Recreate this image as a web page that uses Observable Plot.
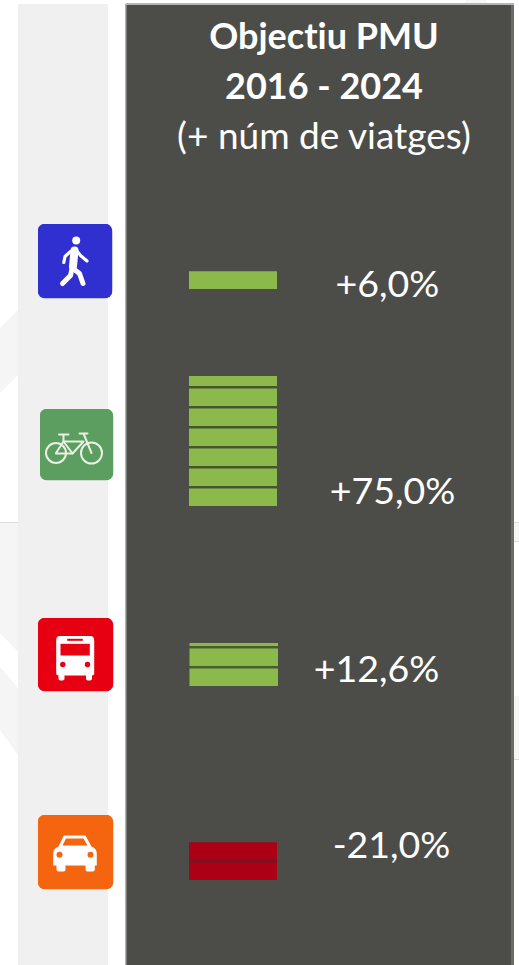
<!DOCTYPE html>
<html lang="ca">
<head>
<meta charset="utf-8">
<script src="https://cdn.jsdelivr.net/npm/d3@7"></script>
<script src="https://cdn.jsdelivr.net/npm/@observablehq/plot@0.6"></script>
<style>
  html, body { margin: 0; padding: 0; background: #fff; }
  svg { display: block; }
  svg text { font-variant-ligatures: none; font-feature-settings: "liga" 0, "clig" 0; }
</style>
</head>
<body>
<div id="chart"></div>
<script>
// ---- data ----
const modes = ["A peu", "Bicicleta", "Bus", "Cotxe"];
const changes = ["+6,0%", "+75,0%", "+12,6%", "-21,0%"];
const fullSegments = [1, 6, 2, 2];
const partialSegment = [0, 0.5, 0.15, 0];
const titleBold = ["Objectiu PMU", "2016 - 2024"];
const titleNote = ["(+ núm de viatges)"];

// ---- layout and style ----
const W = 519, H = 965;
const barX = [[189, 277], [189, 277], [189.5, 278], [189, 277]];
const rowBase = [289, 506, 686, 880];
const unit = 20, segH = 17.5;
const barColor = ["#8cb94c", "#8cb94c", "#8cb94c", "#ab0015"];
const gapColor = ["#8cb94c", "#465430", "#4a5c32", "#7a1420"];
const labelPos = [[387, 296], [392, 503], [376, 681], [391, 857]];
const iconBox = [
  {x: 37, y: 223, w: 75, h: 75, fill: "#3030d0"},
  {x: 39, y: 408, w: 74, h: 72, fill: "#5b9e60"},
  {x: 37, y: 617, w: 76, h: 74, fill: "#e60012"},
  {x: 37, y: 814, w: 76, h: 75, fill: "#f5640f"}
];
const glyphs = [
  // walker
  `<circle cx="38.7" cy="17" r="4" fill="#fff"/>
   <g fill="none" stroke="#fff" stroke-linecap="round" stroke-linejoin="round">
     <path d="M37 27 L35.5 43" stroke-width="8"/>
     <path d="M33 28 L27.5 33 L26.3 39" stroke-width="3.2"/>
     <path d="M39 27 L43 32 L49.5 37.5" stroke-width="3.2"/>
     <path d="M34.5 45 L33 52 L25 60" stroke-width="5"/>
     <path d="M35.5 45 L42 50 L45.5 60" stroke-width="5"/>
   </g>`,
  // bicycle
  `<g fill="none" stroke="#e9f1e4" stroke-width="2" stroke-linecap="round" stroke-linejoin="round">
     <circle cx="16.5" cy="44.5" r="10"/>
     <circle cx="52" cy="44.5" r="10.5"/>
     <path d="M16.5 44.5 L24 33 L44 33 L33 45 L16.5 45 Z"/>
     <path d="M24 33 L33 45 M24 33 L24 26 M19.5 26 L29 26"/>
     <path d="M52 44.5 L44 25 L40 25 M44 25 L48 25"/>
   </g>`,
  // bus
  `<path d="M22 18.5 H53 Q56.7 18.5 56.7 23 V56 Q56.7 58 54.5 58 V61 Q54.5 63 51.5 63 Q48.5 63 48.5 61 V58 H27 V61 Q27 63 24 63 Q21 63 21 61 V58 Q18.7 58 18.7 56 V23 Q18.7 18.5 22 18.5 Z" fill="#fff"/>
   <rect x="23" y="26.3" width="29.3" height="11.7" fill="#e60012"/>
   <rect x="29.7" y="21.3" width="15.6" height="2" fill="#e60012"/>
   <circle cx="25.3" cy="47" r="2.7" fill="#e60012"/>
   <circle cx="50" cy="47" r="2.7" fill="#e60012"/>`,
  // car
  `<path d="M26.3 21 H48 L54 32 Q59.3 34 59.3 39 V51 H57.3 V55 Q57.3 57 55 57 H50 Q48 57 48 55 V51 H28 V55 Q28 57 26 57 H21 Q19 57 19 55 V51 H15.7 V39 Q15.7 34 21 32 Z" fill="#fff"/>
   <path d="M28.5 24 H46 L50 31 H25 Z" fill="#f5640f"/>
   <circle cx="22" cy="40.3" r="3" fill="#f5640f"/>
   <circle cx="53" cy="40.3" r="3" fill="#f5640f"/>`
];

const iconSrc = i => {
  const b = iconBox[i];
  const svg = `<svg xmlns="http://www.w3.org/2000/svg" width="${b.w}" height="${b.h}" viewBox="0 0 ${b.w} ${b.h}">
    <rect width="${b.w}" height="${b.h}" rx="8" fill="${b.fill}"/>${glyphs[i]}</svg>`;
  return "data:image/svg+xml," + encodeURIComponent(svg);
};

// ---- tables built from the arrays ----
const segments = modes.flatMap((mode, m) => {
  const out = d3.range(fullSegments[m]).map(k => ({
    m, y2: rowBase[m] - k * unit, y1: rowBase[m] - k * unit - segH
  }));
  if (partialSegment[m] > 0) {
    const bottom = rowBase[m] - fullSegments[m] * unit;
    out.push({m, y2: bottom, y1: bottom - partialSegment[m] * unit});
  }
  return out;
});
const stacks = modes.map((mode, m) => ({
  m,
  y2: rowBase[m],
  y1: d3.min(segments.filter(s => s.m === m), s => s.y1)
}));

// faint remains of the slide behind the panel
const ghostRects = [
  {x1: 18, x2: 108, y1: 4, y2: 965, fill: "#f0f0f0"},
  {x1: 514, x2: 519, y1: 522, y2: 542, fill: "#f6f6f6"},
  {x1: 514, x2: 519, y1: 696, y2: 759, fill: "#f6f6f6"},
  {x1: 514, x2: 519, y1: 522, y2: 523, fill: "#dcdcdc"},
  {x1: 514, x2: 519, y1: 541, y2: 542, fill: "#dcdcdc"},
  {x1: 514, x2: 519, y1: 759, y2: 760, fill: "#dcdcdc"},
  {x1: 0, x2: 18, y1: 522, y2: 523, fill: "#dcdcdc"},
  {x1: 466, x2: 486, y1: 0, y2: 4, fill: "#f6f6f6"}
];
const ghostBands = [
  {x: 0, top: 328, bottom: 393, k: 0}, {x: 18, top: 310, bottom: 375, k: 0},
  {x: 0, top: 523, bottom: 633, k: 1}, {x: 18, top: 523, bottom: 652, k: 1},
  {x: 0, top: 667, bottom: 730, k: 2}, {x: 18, top: 688, bottom: 755, k: 2}
];
const panel = [{x1: 126, x2: 512, y1: 4, y2: 965}];
const panelEdges = [
  {x1: 125, x2: 126.5, y1: 4, y2: 965, fill: "#b0b0ad"},
  {x1: 511, x2: 514, y1: 4, y2: 965, fill: "#6b6c66"},
  {x1: 126, x2: 514, y1: 3, y2: 5, fill: "#b5b5b2"}
];

const font = "Lato, Carlito, 'Open Sans', sans-serif";
const rectOf = d => Plot.rect(d, {x1: "x1", x2: "x2", y1: "y1", y2: "y2", fill: "fill"});

const chart = Plot.plot({
  width: W,
  height: H,
  margin: 0,
  x: {domain: [0, W], range: [0, W], axis: null},
  y: {domain: [0, H], range: [0, H], axis: null},
  style: {background: "#fff", fontFamily: font, overflow: "hidden"},
  marks: [
    rectOf(ghostRects),
    Plot.area(ghostBands, {x1: "x", y1: "top", y2: "bottom", z: "k", fill: "#f5f5f5"}),
    Plot.rect(panel, {x1: "x1", x2: "x2", y1: "y1", y2: "y2", fill: "#4c4d48"}),
    rectOf(panelEdges),

    Plot.rect(stacks, {
      x1: d => barX[d.m][0], x2: d => barX[d.m][1],
      y1: "y1", y2: "y2", fill: d => gapColor[d.m]
    }),
    Plot.rect(segments, {
      x1: d => barX[d.m][0], x2: d => barX[d.m][1],
      y1: "y1", y2: "y2", fill: d => barColor[d.m]
    }),

    Plot.image(modes, {
      x: (d, i) => iconBox[i].x + iconBox[i].w / 2,
      y: (d, i) => iconBox[i].y + iconBox[i].h / 2,
      width: (d, i) => iconBox[i].w,
      height: (d, i) => iconBox[i].h,
      src: (d, i) => iconSrc(i),
      title: d => d
    }),

    Plot.text(changes, {
      x: (d, i) => labelPos[i][0], y: (d, i) => labelPos[i][1],
      text: d => d, fill: "#fff", fontSize: 37.5, lineAnchor: "bottom", textAnchor: "middle"
    }),
    Plot.text(titleBold, {
      x: 323.5,
      y: (d, i) => [48, 98.5][i],
      text: d => d, fill: "#fff",
      fontSize: 36, fontWeight: "bold",
      lineAnchor: "bottom", textAnchor: "middle"
    }),
    Plot.text(titleNote, {
      x: 323.5,
      y: 148.5,
      text: d => d, fill: "#fff",
      fontSize: 37,
      lineAnchor: "bottom", textAnchor: "middle"
    })
  ]
});
document.getElementById("chart").append(chart);
</script>
</body>
</html>
